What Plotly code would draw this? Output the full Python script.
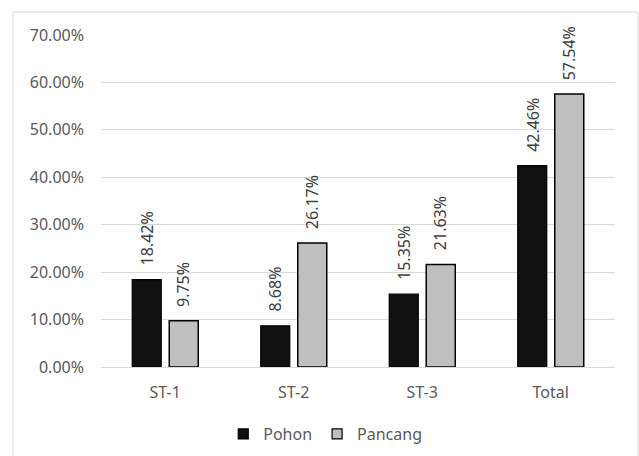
import plotly.graph_objects as go

categories = ["ST-1", "ST-2", "ST-3", "Total"]
pohon = [18.42, 8.68, 15.35, 42.46]
pancang = [9.75, 26.17, 21.63, 57.54]
y_ticks = [0, 10, 20, 30, 40, 50, 60, 70]

BARGAP = 0.424
GROUPGAP = 0.216
FONT = "Noto Sans"
FONT_SIZE = 16
TEXT_COLOR = "#595959"
POHON_COLOR = "#111111"
PANCANG_COLOR = "#bfbfbf"

x_pos = list(range(len(categories)))
slot = (1 - BARGAP) / 2  # width of each series slot inside a group, in data units

fig = go.Figure()
fig.add_trace(go.Bar(
    name="Pohon", x=x_pos, y=pohon, showlegend=False, legendgroup="pohon",
    marker=dict(color=POHON_COLOR, line=dict(color="#000000", width=1.2)),
))
fig.add_trace(go.Bar(
    name="Pancang", x=x_pos, y=pancang, showlegend=False, legendgroup="pancang",
    marker=dict(color=PANCANG_COLOR, line=dict(color="#000000", width=1.5)),
))

# small square legend keys
for name, color, group in (("Pohon", POHON_COLOR, "pohon"), ("Pancang", PANCANG_COLOR, "pancang")):
    fig.add_trace(go.Scatter(
        name=name, x=[None], y=[None], mode="markers", legendgroup=group,
        marker=dict(symbol="square", size=10, color=color, line=dict(color="#000000", width=1.2)),
    ))

# value labels, rotated, sitting above each bar
for series, sign in ((pohon, -1), (pancang, 1)):
    for i, v in enumerate(series):
        fig.add_annotation(
            x=i + sign * slot / 2, y=v, xref="x", yref="y",
            text=f"{v:.2f}%", textangle=-90, showarrow=False,
            xanchor="center", yanchor="bottom", yshift=12,
            font=dict(family=FONT, size=FONT_SIZE, color="#404040"),
        )

# outer chart frame
fig.add_shape(
    type="rect", xref="paper", yref="paper",
    x0=-0.1712, x1=1.0447, y0=-0.30, y1=1.0693,
    line=dict(color="#d9d9d9", width=1), fillcolor="rgba(0,0,0,0)", layer="below",
)

fig.update_layout(
    width=639, height=456,
    margin=dict(l=101, r=24, t=35, b=89),
    paper_bgcolor="white", plot_bgcolor="white",
    barmode="group", bargap=BARGAP, bargroupgap=GROUPGAP,
    font=dict(family=FONT, size=FONT_SIZE, color=TEXT_COLOR),
    showlegend=True,
    legend=dict(
        orientation="h", xref="container", yref="container",
        x=0.509, y=1 - 434 / 456, xanchor="center", yanchor="middle",
        font=dict(family=FONT, size=FONT_SIZE, color=TEXT_COLOR),
        itemwidth=30, tracegroupgap=0, bgcolor="rgba(0,0,0,0)",
    ),
    xaxis=dict(
        tickmode="array", tickvals=x_pos, ticktext=categories,
        range=[-0.5, len(categories) - 0.5],
        showgrid=False, zeroline=False, showline=False, ticks="",
        ticklabelstandoff=14,
    ),
    yaxis=dict(
        range=[0, 70], tickmode="array", tickvals=y_ticks,
        ticktext=[f"{t:.2f}%" for t in y_ticks],
        showgrid=True, gridcolor="#d9d9d9", gridwidth=1,
        zeroline=True, zerolinecolor="#d9d9d9", zerolinewidth=1,
        showline=False, ticks="", ticklabelstandoff=16,
    ),
)

fig.write_html("out.html")
